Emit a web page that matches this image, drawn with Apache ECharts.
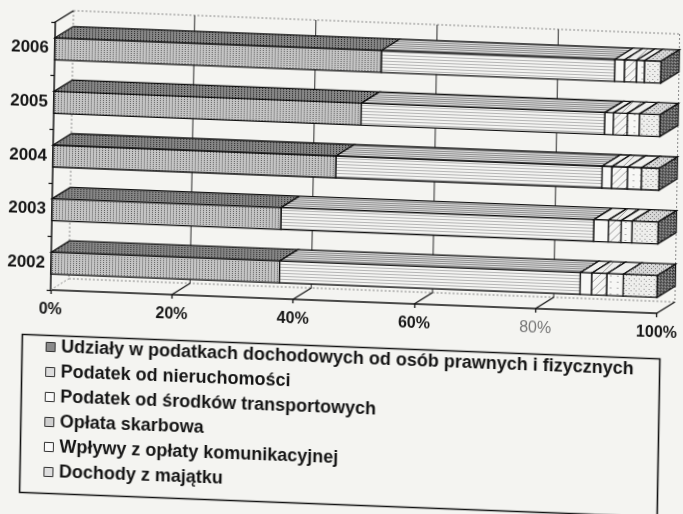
<!DOCTYPE html>
<html lang="pl">
<head>
<meta charset="utf-8">
<title>Struktura dochodów 2002-2006</title>
<script src="https://cdn.jsdelivr.net/npm/echarts@6/dist/echarts.min.js"></script>
<style>
  html, body { margin: 0; padding: 0; background: #f4f4f1; overflow: hidden; }
  /* the reference is a slightly tilted scan, so the whole chart is tilted a little */
  #main {
    position: absolute; left: 0; top: 0; width: 683px; height: 514px;
    transform-origin: 53px 155px;
    transform: rotate(1deg) skewY(1.2deg);
  }
</style>
</head>
<body>
<div id="main"></div>
<script>
var years = ['2002', '2003', '2004', '2005', '2006'];

// shares in %, one array per legend item (2002 .. 2006)
var udzialy       = [37.7, 37.8, 46.7, 50.7, 53.9];
var nieruchomosci = [49.6, 51.6, 43.9, 40.2, 38.5];
var transport     = [1.9, 2.4, 1.6, 1.4, 1.6];
var skarbowa      = [2.5, 2.1, 2.6, 2.3, 2.0];
var komunikacyjna = [2.7, 1.8, 2.3, 2.0, 1.3];
var majatek       = [5.6, 4.3, 2.9, 3.4, 2.7];

var seriesNames = [
  'Udziały w podatkach dochodowych od osób prawnych i fizycznych',
  'Podatek od nieruchomości',
  'Podatek od środków transportowych',
  'Opłata skarbowa',
  'Wpływy z opłaty komunikacyjnej',
  'Dochody z majątku'
];
var seriesValues = [udzialy, nieruchomosci, transport, skarbowa, komunikacyjna, majatek];
var xTicks = [0, 20, 40, 60, 80, 100];

var FONT = "'Liberation Sans', Arial, sans-serif";
var DX = 18, DY = 12;   // depth of the 3d box

function pat(w, h, bg, draw) {
  var c = document.createElement('canvas');
  c.width = w; c.height = h;
  var g = c.getContext('2d');
  g.fillStyle = bg;
  g.fillRect(0, 0, w, h);
  draw(g);
  return { image: c, repeat: 'repeat' };
}

var fronts = [
  pat(3, 2, '#c4c4c4', function (g) { g.fillStyle = '#606060'; g.fillRect(0, 0, 1, 1); }),
  pat(4, 3, '#f3f3f1', function (g) { g.fillStyle = '#b5b5b5'; g.fillRect(0, 0, 4, 1); }),
  '#f8f8f6',
  pat(8, 8, '#f6f6f4', function (g) { g.strokeStyle = '#a0a0a0'; g.beginPath(); g.moveTo(0, 8); g.lineTo(8, 0); g.stroke(); }),
  pat(7, 6, '#f7f7f5', function (g) { g.fillStyle = '#b0b0b0'; g.fillRect(3, 2, 2, 1); }),
  pat(5, 5, '#eeeeec', function (g) { g.fillStyle = '#8a8a8a'; g.fillRect(1, 1, 1, 1); g.fillRect(3, 3, 1, 1); })
];
var tops = [
  pat(3, 2, '#858585', function (g) { g.fillStyle = '#2a2a2a'; g.fillRect(0, 0, 1, 1); }),
  pat(4, 2, '#dadada', function (g) { g.fillStyle = '#909090'; g.fillRect(0, 0, 4, 1); }),
  '#f0f0ee',
  pat(8, 8, '#eeeeec', function (g) { g.strokeStyle = '#999'; g.beginPath(); g.moveTo(0, 8); g.lineTo(8, 0); g.stroke(); }),
  '#f0f0ee',
  pat(4, 4, '#d8d8d8', function (g) { g.fillStyle = '#777'; g.fillRect(1, 1, 1, 1); g.fillRect(3, 3, 1, 1); })
];
var endCap = pat(3, 3, '#6e6e6e', function (g) {
  g.fillStyle = '#222'; g.fillRect(0, 0, 1, 1); g.fillRect(2, 1, 1, 1);
  g.fillStyle = '#b0b0b0'; g.fillRect(1, 2, 1, 1);
});
var legendColors = ['#8a8a8a', '#dcdcdc', '#fafafa', '#cfcfcf', '#fafafa', '#dedede'];

function segData(k) {
  return years.map(function (y, i) {
    var start = 0;
    for (var j = 0; j < k; j++) start += seriesValues[j][i];
    return [i, start, start + seriesValues[k][i]];
  });
}

function renderSeg(k) {
  return function (params, api) {
    var cat = api.value(0);
    var p0 = api.coord([api.value(1), cat]);
    var p1 = api.coord([api.value(2), cat]);
    var h = api.size([0, 1])[1] * 0.41;
    var top = p0[1] - h / 2, bot = p0[1] + h / 2;
    var line = { stroke: '#111', lineWidth: 1.3 };
    var children = [
      { type: 'rect', shape: { x: p0[0], y: top, width: p1[0] - p0[0], height: h },
        style: Object.assign({ fill: fronts[k] }, line) },
      { type: 'polygon', shape: { points: [[p0[0], top], [p0[0] + DX, top - DY], [p1[0] + DX, top - DY], [p1[0], top]] },
        style: Object.assign({ fill: tops[k] }, line) }
    ];
    if (k === seriesValues.length - 1) {
      children.push({ type: 'polygon',
        shape: { points: [[p1[0], top], [p1[0] + DX, top - DY], [p1[0] + DX, bot - DY], [p1[0], bot]] },
        style: Object.assign({ fill: endCap }, line) });
    }
    return { type: 'group', children: children };
  };
}

function renderWalls(params, api) {
  var cs = params.coordSys;
  var v = api.value(0);
  var x = api.coord([v, 0])[0];
  var bottom = cs.y + cs.height;
  var faint = { stroke: '#8a8a8a', lineWidth: 1, lineDash: [2, 2] };
  var children = [];
  if (v > 0 && v < 100) {
    children.push({ type: 'line', shape: { x1: x + DX, y1: cs.y - DY, x2: x + DX, y2: bottom - DY },
      style: { stroke: '#2a2a2a', lineWidth: 1 } });
  } else {
    children.push({ type: 'line', shape: { x1: x + DX, y1: cs.y - DY, x2: x + DX, y2: bottom - DY }, style: faint });
  }
  if (v === 0) {
    children.push({ type: 'line', shape: { x1: x + DX, y1: cs.y - DY, x2: cs.x + cs.width + DX, y2: cs.y - DY }, style: faint });
    children.push({ type: 'line', shape: { x1: x + DX, y1: bottom - DY, x2: cs.x + cs.width + DX, y2: bottom - DY }, style: faint });
    children.push({ type: 'line', shape: { x1: x, y1: cs.y, x2: x + DX, y2: cs.y - DY },
      style: { stroke: '#111', lineWidth: 1.3 } });
  }
  children.push({ type: 'line', shape: { x1: x, y1: bottom, x2: x + DX, y2: bottom - DY },
    style: v === 0 ? faint : { stroke: '#111', lineWidth: 1.2 } });
  return { type: 'group', children: children };
}

var series = [{
  type: 'custom', name: 'walls', z: 1, silent: true, clip: false,
  data: xTicks.map(function (v) { return [v, 0]; }),
  encode: { x: 0, y: 1 },
  renderItem: renderWalls
}];
seriesNames.forEach(function (name, k) {
  series.push({
    type: 'custom', name: name, z: 2, clip: false,
    data: segData(k),
    encode: { x: [1, 2], y: 0 },
    itemStyle: { color: legendColors[k] },
    renderItem: renderSeg(k)
  });
});

var chart = echarts.init(document.getElementById('main'));
chart.setOption({
  animation: false,
  backgroundColor: 'transparent',
  textStyle: { fontFamily: FONT },
  grid: { left: 53, top: 22, width: 611, height: 268 },
  xAxis: {
    type: 'value', min: 0, max: 100, interval: 20,
    axisLine: { show: true, lineStyle: { color: '#111', width: 1.5 } },
    axisTick: { show: true, length: 4, lineStyle: { color: '#111', width: 1.3 } },
    splitLine: { show: false },
    axisLabel: {
      margin: 12, fontSize: 16, fontWeight: 'bold', color: '#151515', fontFamily: FONT,
      formatter: function (v) { return v === 80 ? '{g|80%}' : v + '%'; },
      rich: { g: { fontSize: 16, fontWeight: 'normal', color: '#777', fontFamily: FONT } }
    }
  },
  yAxis: {
    type: 'category', data: years,
    axisLine: { show: true, lineStyle: { color: '#111', width: 1.5 } },
    axisTick: { show: true, length: 4, lineStyle: { color: '#111', width: 1.2 } },
    axisLabel: { margin: 6, fontSize: 17, fontWeight: 'bold', color: '#151515', fontFamily: FONT }
  },
  legend: {
    orient: 'vertical', left: 49, top: 338, padding: 0, itemGap: 7,
    icon: 'rect', itemWidth: 9, itemHeight: 9,
    selectedMode: false,
    data: seriesNames.map(function (n, k) {
      return { name: n, itemStyle: { color: legendColors[k], borderColor: '#333', borderWidth: 1 } };
    }),
    textStyle: { fontSize: 18, fontWeight: 'bold', color: '#151515', fontFamily: FONT, lineHeight: 18, padding: [0, 0, 0, 1] }
  },
  graphic: [{
    type: 'rect', left: 23, top: 333, silent: true,
    shape: { width: 638, height: 158 },
    style: { fill: 'none', stroke: '#111', lineWidth: 1.6 }
  }],
  series: series
});
</script>
</body>
</html>
